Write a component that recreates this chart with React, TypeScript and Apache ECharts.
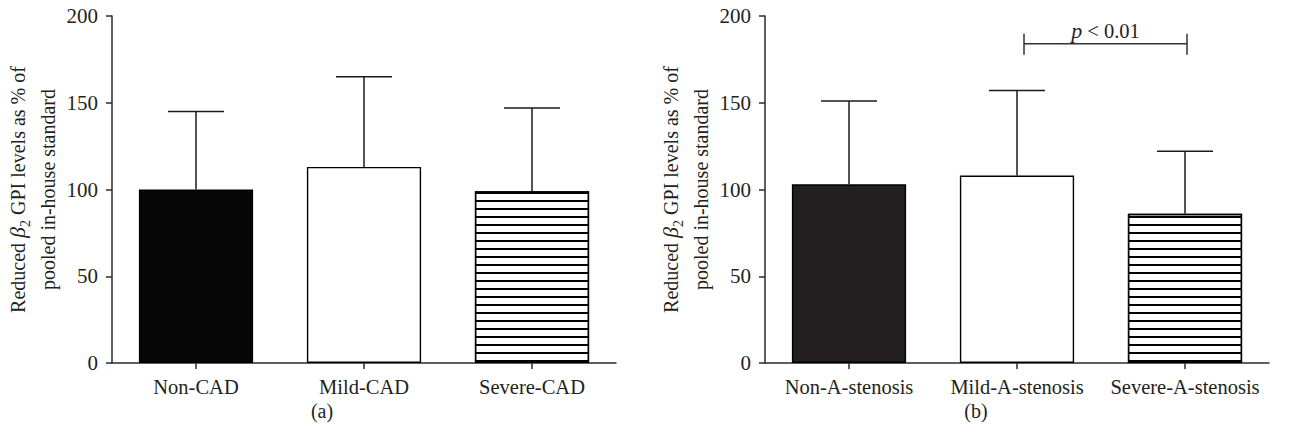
import React, { useEffect, useRef } from "react";
import * as echarts from "echarts";

// ---------- data ----------
const categoriesA = ["Non-CAD", "Mild-CAD", "Severe-CAD"];
const meansA = [100, 113, 99];
const upperA = [145, 165, 147];

const categoriesB = ["Non-A-stenosis", "Mild-A-stenosis", "Severe-A-stenosis"];
const meansB = [103, 108, 86];
const upperB = [151, 157, 122];

const yMin = 0;
const yMax = 200;
const yInterval = 50;

const panelLabels = ["(a)", "(b)"];
const sigFrom = 1;
const sigTo = 2;
const sigLevel = 184;
const sigText = "{i|p} < 0.01";

// ---------- styles ----------
const FONT = '"Liberation Serif", "Times New Roman", serif';
const TXT = "#231f20";
const AX = "#2b2b2b";

const decalStripes = {
  symbol: "rect",
  symbolSize: 1,
  color: "#000",
  dashArrayX: [1, 0],
  dashArrayY: [2, 6],
  rotation: 0,
};

function barItems(values: number[], dark: string) {
  return values.map((v, i) => {
    const base: any = { borderColor: "#000", borderWidth: 1.4 };
    if (i === 0) return { value: v, itemStyle: { ...base, color: dark } };
    if (i === 1) return { value: v, itemStyle: { ...base, color: "#fff" } };
    return { value: v, itemStyle: { ...base, color: "#fff", decal: decalStripes } };
  });
}

function errorSeries(idx: number, means: number[], upper: number[]) {
  return {
    type: "custom",
    xAxisIndex: idx,
    yAxisIndex: idx,
    z: 5,
    data: means.map((m, i) => [i, m, upper[i]]),
    renderItem: (params: any, api: any) => {
      const x = api.value(0);
      const lo = api.coord([x, api.value(1)]);
      const hi = api.coord([x, api.value(2)]);
      const st = { stroke: "#1a1a1a", lineWidth: 1.5 };
      return {
        type: "group",
        children: [
          { type: "line", shape: { x1: lo[0], y1: lo[1], x2: hi[0], y2: hi[1] }, style: st },
          { type: "line", shape: { x1: hi[0] - 28, y1: hi[1], x2: hi[0] + 28, y2: hi[1] }, style: st },
        ],
      };
    },
  };
}

function yAxisCfg(idx: number) {
  return {
    type: "value",
    gridIndex: idx,
    min: yMin,
    max: yMax,
    interval: yInterval,
    axisLine: { show: true, lineStyle: { color: AX, width: 1.5 } },
    axisTick: { show: true, length: 6, lineStyle: { color: AX, width: 1.5 } },
    splitLine: { show: false },
    axisLabel: { color: TXT, fontSize: 21, fontFamily: FONT, margin: 14 },
    name: "Reduced {b|β}{s|2} GPI levels as % of\npooled in-house standard",
    nameLocation: "middle",
    nameGap: 49,
    nameTextStyle: {
      color: TXT,
      fontSize: 20,
      fontFamily: FONT,
      lineHeight: 30,
      rich: {
        b: { fontStyle: "italic", fontSize: 22, fontFamily: FONT, color: TXT, lineHeight: 30 },
        s: { fontSize: 14, fontFamily: FONT, color: TXT, lineHeight: 20, verticalAlign: "bottom" },
      },
    },
  };
}

function xAxisCfg(idx: number, cats: string[]) {
  return {
    type: "category",
    gridIndex: idx,
    data: cats,
    axisLine: { show: true, lineStyle: { color: AX, width: 1.5 } },
    axisTick: { show: true, alignWithLabel: true, length: 6, lineStyle: { color: AX, width: 1.5 } },
    axisLabel: { color: TXT, fontSize: 20.5, fontFamily: FONT, margin: 13, interval: 0 },
  };
}

export default function App() {
  const ref = useRef<HTMLDivElement>(null);
  useEffect(() => {
    if (!ref.current) return;
    const chart = echarts.init(ref.current, undefined, { renderer: "svg" });
    const option: any = {
      animation: false,
      backgroundColor: "#fff",
      grid: [
        { left: 112, top: 16, width: 504, height: 347 },
        { left: 765, top: 16, width: 504, height: 347 },
      ],
      xAxis: [xAxisCfg(0, categoriesA), xAxisCfg(1, categoriesB)],
      yAxis: [yAxisCfg(0), yAxisCfg(1)],
      series: [
        {
          type: "bar",
          xAxisIndex: 0,
          yAxisIndex: 0,
          barCategoryGap: "32%",
          data: barItems(meansA, "#050505"),
        },
        errorSeries(0, meansA, upperA),
        {
          type: "bar",
          xAxisIndex: 1,
          yAxisIndex: 1,
          barCategoryGap: "32%",
          data: barItems(meansB, "#231f20"),
        },
        errorSeries(1, meansB, upperB),
        {
          type: "custom",
          xAxisIndex: 1,
          yAxisIndex: 1,
          z: 6,
          data: [[sigFrom, sigTo, sigLevel]],
          renderItem: (params: any, api: any) => {
            const a = api.coord([api.value(0), api.value(2)]);
            const b = api.coord([api.value(1), api.value(2)]);
            const x1 = a[0] + 7;
            const x2 = b[0] + 2;
            const y = a[1];
            const st = { stroke: "#333", lineWidth: 1.5 };
            return {
              type: "group",
              children: [
                { type: "line", shape: { x1, y1: y, x2, y2: y }, style: st },
                { type: "line", shape: { x1, y1: y - 10, x2: x1, y2: y + 11 }, style: st },
                { type: "line", shape: { x1: x2, y1: y - 10, x2, y2: y + 11 }, style: st },
                {
                  type: "text",
                  x: (x1 + x2) / 2,
                  y: y - 13,
                  style: {
                    text: sigText,
                    align: "center",
                    verticalAlign: "middle",
                    fill: TXT,
                    fontSize: 20.5,
                    fontFamily: FONT,
                    rich: {
                      i: { fontStyle: "italic", fontSize: 22, fontFamily: FONT, fill: TXT },
                    },
                  },
                },
              ],
            };
          },
        },
      ],
      graphic: [
        {
          type: "text",
          x: 322,
          y: 411,
          style: { text: panelLabels[0], align: "center", verticalAlign: "middle", fill: TXT, fontSize: 20, fontFamily: FONT },
        },
        {
          type: "text",
          x: 976,
          y: 411,
          style: { text: panelLabels[1], align: "center", verticalAlign: "middle", fill: TXT, fontSize: 20, fontFamily: FONT },
        },
      ],
    };
    chart.setOption(option);
    return () => chart.dispose();
  }, []);
  return (
    <div
      ref={ref}
      style={{ position: "fixed", left: 0, top: 0, width: 1291, height: 438, background: "#fff" }}
    />
  );
}
